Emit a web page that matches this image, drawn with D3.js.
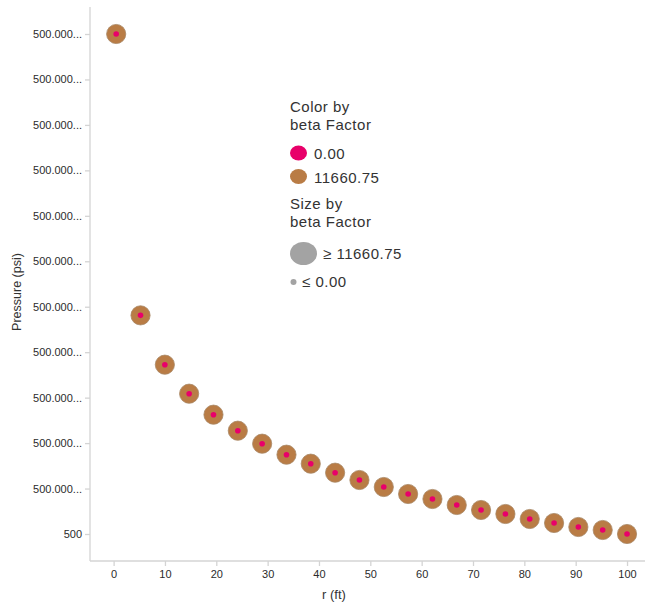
<!DOCTYPE html>
<html>
<head>
<meta charset="utf-8">
<script src="https://cdn.jsdelivr.net/npm/d3@7"></script>
<style>
  html, body { margin: 0; padding: 0; background: #fff; }
  svg { display: block; font-family: Arial, "Liberation Sans", sans-serif; }
</style>
</head>
<body>
<svg id="chart" width="645" height="606"></svg>
<script>
// Radial distance from the well (ft)
const radius = [0.5, 5.24, 9.98, 14.71, 19.45, 24.19, 28.93, 33.67, 38.40, 43.14, 47.88,
                52.62, 57.36, 62.10, 66.83, 71.57, 76.31, 81.05, 85.79, 90.52, 95.26, 100];
// Pressure at each radius (psi)
const pressure = [500.000011, 500.00000481, 500.000003725, 500.000003087, 500.000002625,
                  500.000002273, 500.000001987, 500.000001745, 500.000001547, 500.000001349,
                  500.000001188, 500.000001034, 500.00000088, 500.00000077, 500.000000638,
                  500.000000528, 500.00000044, 500.00000033, 500.000000242, 500.000000154,
                  500.000000088, 500.0];
// beta Factor cases plotted over the same profile
const betaFactors = [11660.75, 0.00];
const betaColors = ["#b97c45", "#e8006a"];

// Axis ticks
const xTicks = [0, 10, 20, 30, 40, 50, 60, 70, 80, 90, 100];
const yTicks = [500, 500.000001, 500.000002, 500.000003, 500.000004, 500.000005,
                500.000006, 500.000007, 500.000008, 500.000009, 500.00001, 500.000011];
const yTickLabels = ["500", "500.000...", "500.000...", "500.000...", "500.000...", "500.000...",
                     "500.000...", "500.000...", "500.000...", "500.000...", "500.000...", "500.000..."];

const svg = d3.select("#chart");
const plot = { left: 90, right: 645, top: 7, bottom: 561 };

const x = d3.scaleLinear().domain([-4.6, 103.5]).range([plot.left, plot.right]);
const [pMin, pMax] = d3.extent(pressure);
const pPad = (pMax - pMin) * 0.054;
const y = d3.scaleLinear().domain([pMin - pPad, pMax + pPad]).range([plot.bottom, plot.top]);

const color = d3.scaleOrdinal().domain(betaFactors).range(betaColors);
const size = d3.scaleLinear().domain([0, 11660.75]).range([2.8, 9.6]);

// Axes
const axisColor = "#d4d4d4";
const textColor = "#2b2b2b";

const yAxis = svg.append("g")
  .attr("transform", `translate(${plot.left},0)`)
  .call(d3.axisLeft(y).tickValues(yTicks).tickSize(5).tickPadding(3)
    .tickFormat((d, i) => yTickLabels[i]));
const xAxis = svg.append("g")
  .attr("transform", `translate(0,${plot.bottom})`)
  .call(d3.axisBottom(x).tickValues(xTicks).tickSize(5).tickPadding(4));

[xAxis, yAxis].forEach(g => {
  g.select(".domain").attr("stroke", axisColor).attr("stroke-width", 1.3);
  g.selectAll(".tick line").attr("stroke", axisColor).attr("stroke-width", 1.3);
  g.selectAll(".tick text").attr("fill", textColor)
    .style("font-size", "11px").style("font-family", "Arial, 'Liberation Sans', sans-serif");
});
// keep axis lines square (no outer tick caps)
yAxis.select(".domain").attr("d", `M0,${plot.top}V${plot.bottom}`);
xAxis.select(".domain").attr("d", `M${plot.left},0H${plot.right}`);

// Axis titles
svg.append("text")
  .attr("transform", `translate(21,292) rotate(-90)`)
  .attr("text-anchor", "middle")
  .attr("fill", "#333")
  .style("font-size", "12.5px")
  .text("Pressure (psi)");
svg.append("text")
  .attr("x", 334).attr("y", 599)
  .attr("text-anchor", "middle")
  .attr("fill", "#333")
  .style("font-size", "13px")
  .text("r (ft)");

// Markers: one layer per beta Factor, larger first
const points = radius.map((r, i) => ({ r, p: pressure[i] }));
betaFactors.forEach(beta => {
  svg.append("g")
    .selectAll("circle")
    .data(points)
    .join("circle")
    .attr("cx", d => x(d.r))
    .attr("cy", d => y(d.p))
    .attr("r", size(beta))
    .attr("fill", color(beta))
    .attr("stroke", beta > 0 ? "#a88866" : "none")
    .attr("stroke-width", beta > 0 ? 0.8 : 0);
});

// Legend
const legend = svg.append("g")
  .style("font-size", "15px")
  .style("letter-spacing", "0.5px")
  .attr("fill", "#333");
legend.append("text").attr("x", 290).attr("y", 112).text("Color by");
legend.append("text").attr("x", 290).attr("y", 130).text("beta Factor");

const colorItems = [0.00, 11660.75];
colorItems.forEach((b, i) => {
  const cy = 153 + i * 23.5;
  legend.append("ellipse").attr("cx", 298.5).attr("cy", cy)
    .attr("rx", 8.5).attr("ry", 7.5).attr("fill", color(b));
  legend.append("text").attr("x", 314).attr("y", cy + 6).text(b.toFixed(2));
});

legend.append("text").attr("x", 290).attr("y", 209).text("Size by");
legend.append("text").attr("x", 290).attr("y", 227).text("beta Factor");
legend.append("ellipse").attr("cx", 303.5).attr("cy", 253.5)
  .attr("rx", 13.5).attr("ry", 11.5).attr("fill", "#a3a3a3");
legend.append("text").attr("x", 323).attr("y", 259).text("\u2265 " + d3.max(betaFactors).toFixed(2));
legend.append("circle").attr("cx", 293.5).attr("cy", 282).attr("r", 3).attr("fill", "#a3a3a3");
legend.append("text").attr("x", 302).attr("y", 287).text("\u2264 " + d3.min(betaFactors).toFixed(2));
</script>
</body>
</html>
